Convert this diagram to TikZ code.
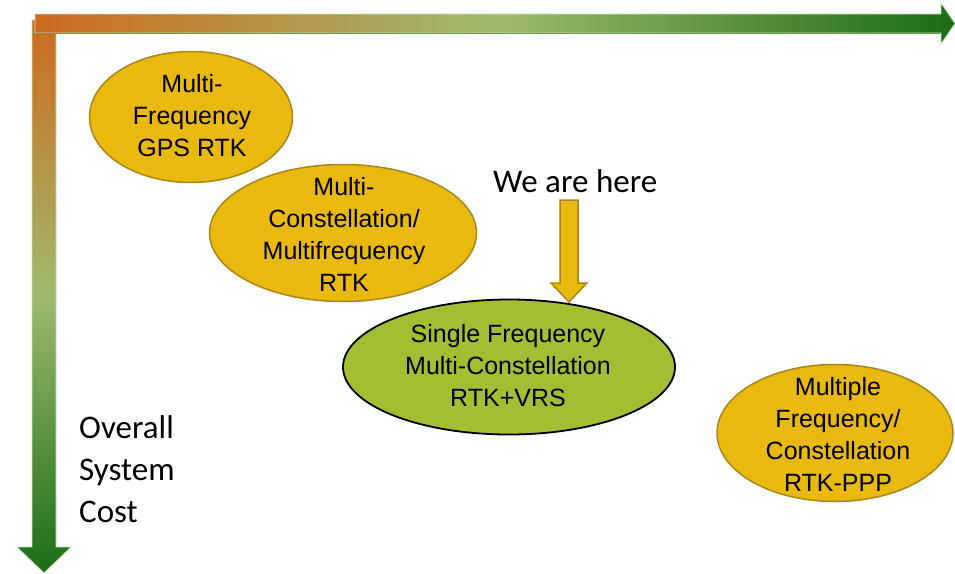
\documentclass[tikz,border=0pt]{standalone}
\usepackage{fontspec}
\setmainfont{Liberation Sans}
\newfontfamily\calfont{Carlito}
\usetikzlibrary{shapes.geometric}
\definecolor{gold}{RGB}{233,185,14}
\definecolor{golddark}{RGB}{168,135,26}
\definecolor{lime}{RGB}{163,190,50}
\definecolor{axorange}{RGB}{206,106,30}
\definecolor{axmid}{RGB}{158,186,108}
\definecolor{axdark}{RGB}{28,108,24}
\definecolor{axedge}{RGB}{200,225,185}
\definecolor{axline}{RGB}{100,160,75}
\begin{document}
\begin{tikzpicture}[x=1pt,y=-1pt,
  oval/.style={ellipse, draw=golddark, line width=1.5pt, fill=gold, inner sep=0pt},
  greenoval/.style={ellipse, draw=black, line width=1.8pt, fill=lime, inner sep=0pt},
  ovaltext/.style={align=center, font=\fontsize{25}{32}\selectfont, inner sep=0pt, text=black},
  caltext/.style={font=\calfont\fontsize{33}{42}\selectfont, inner sep=0pt, text=black},
  axisarrow/.style={draw=axedge, line width=0.8pt},
  blockarrow/.style={fill=gold, draw=golddark, line width=1.5pt}]
\useasboundingbox (0,0) rectangle (955,573);
% vertical axis arrow
\shade[axisarrow, top color=axorange, bottom color=axdark, middle color=axmid]
  (32,20) -- (56,20) -- (56,547) -- (71,547) -- (44,573) -- (17,547) -- (32,547) -- cycle;
% horizontal axis arrow
\shade[axisarrow, left color=axorange, right color=axdark, middle color=axmid]
  (35,14) -- (941,14) -- (941,3) -- (955,23.5) -- (941,44) -- (941,33) -- (35,33) -- cycle;
\draw[axline, line width=1pt] (36,33) -- (940,33);
% ellipses
\node[oval, minimum width=203pt, minimum height=131pt] (e1) at (191,117) {};
\node[ovaltext] (t1) at (192,116) {Multi-\\Frequency\\GPS RTK};
\node[oval, minimum width=267pt, minimum height=137pt] (e2) at (343,233) {};
\node[ovaltext] (t2) at (344,234) {Multi-\\Constellation/\\Multifrequency\\RTK};
\node[greenoval, minimum width=332pt, minimum height=135pt] (e3) at (509,367) {};
\node[ovaltext] (t3) at (508,366) {Single Frequency\\Multi-Constellation\\RTK+VRS};
\node[oval, minimum width=236pt, minimum height=137pt] (e4) at (835,433) {};
\node[ovaltext] (t4) at (838,434) {Multiple\\Frequency/\\Constellation\\RTK-PPP};
% we are here
\node[caltext, anchor=base west] (here) at (493,192) {We are here};
\filldraw[blockarrow] (560,200) -- (578,200) -- (578,283) -- (587,283) -- (569,302) -- (551,283) -- (560,283) -- cycle;
% cost label
\node[caltext, anchor=west, align=left] (cost) at (79,469) {Overall\\System\\Cost};
\end{tikzpicture}
\end{document}
